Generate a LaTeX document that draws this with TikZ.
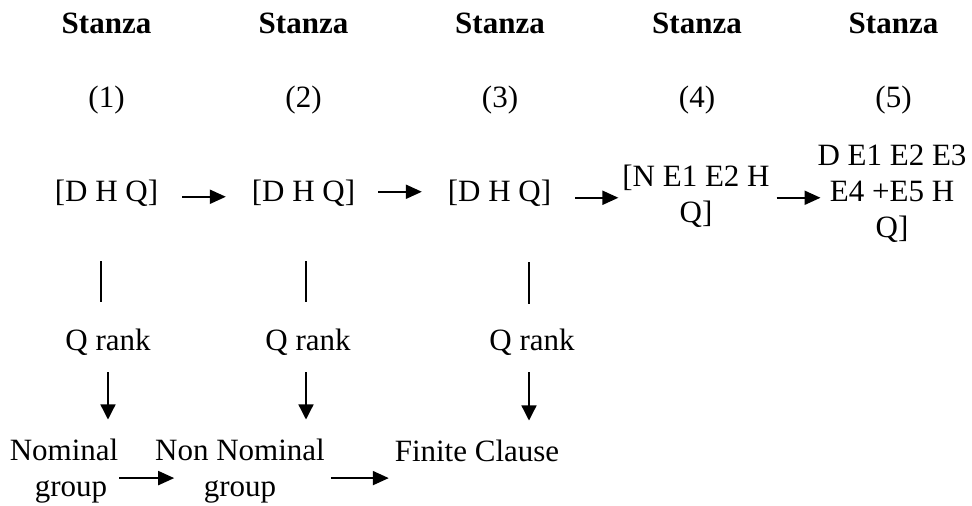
\documentclass[tikz,border=0pt]{standalone}
\usepackage{fontspec}
\setmainfont{Liberation Serif}
\usetikzlibrary{arrows.meta,calc}
\tikzset{
  txt/.style={inner sep=0pt, outer sep=0pt, font=\fontsize{31}{36}\selectfont, align=center, anchor=base},
  hdr/.style={txt, font=\fontsize{31}{36}\selectfont\bfseries},
  harr/.style={line width=2pt, -{Triangle[length=16pt,width=14pt]}},
  varr/.style={line width=1.3pt, -{Triangle[length=15pt,width=15pt]}},
  vline/.style={line width=1.5pt}
}
\begin{document}
\begin{tikzpicture}[x=1pt,y=-1pt]
\useasboundingbox (0,0) rectangle (972,506);
% headings
\node[hdr] (s1) at (106.5,33) {Stanza};
\node[hdr] (s2) at (303.5,33) {Stanza};
\node[hdr] (s3) at (500,33) {Stanza};
\node[hdr] (s4) at (697,33) {Stanza};
\node[hdr] (s5) at (893.5,33) {Stanza};
\node[txt] (n1) at (106.5,107) {(1)};
\node[txt] (n2) at (303.5,107) {(2)};
\node[txt] (n3) at (500,107) {(3)};
\node[txt] (n4) at (697,107) {(4)};
\node[txt] (n5) at (893.5,107) {(5)};
% structures
\node[txt] (a1) at (106.5,201) {[D H Q]};
\node[txt] (a2) at (303.5,201) {[D H Q]};
\node[txt] (a3) at (499.5,201) {[D H Q]};
\node[txt] (a4) at (696,222) {[N E1 E2 H\\Q]};
\node[txt] (a5) at (892,237) {D E1 E2 E3\\E4 +E5 H\\Q]};
\draw[harr] ($(a1.east)+(24,4)$) -- ($(a2.west)+(-26,4)$);
\draw[harr] ($(a2.east)+(23,-1)$) -- ($(a3.west)+(-26,-1)$);
\draw[harr] ($(a3.east)+(24,5)$) -- ($(a3.east -| a4.west)+(-4,5)$);
\draw[harr] ($(a3.east -| a4.east)+(7,5)$) -- ($(a3.east -| a5.west)+(3,5)$);
% ranks
\node[txt] (q1) at (108,350) {Q rank};
\node[txt] (q2) at (308,350) {Q rank};
\node[txt] (q3) at (532,350) {Q rank};
\draw[vline] ($(a1.south)+(-5.5,55)$) -- ($(a1.south)+(-5.5,96)$);
\draw[vline] ($(a2.south)+(2.5,55)$) -- ($(a2.south)+(2.5,96)$);
\draw[vline] ($(a3.south)+(29.5,56)$) -- ($(a3.south)+(29.5,98)$);
% bottom
\node[txt] (b1) at (64,496) {Nominal\\\hspace*{14pt}group};
\node[txt] (b2) at (240,496) {Non Nominal\\group};
\node[txt] (b3) at (477,461) {Finite Clause};
\draw[varr, shorten <=17pt, shorten >=19pt] (q1.south) -- (q1.south |- b1.north);
\draw[varr, shorten <=17pt, shorten >=19pt] ([xshift=-2pt]q2.south) -- ([xshift=-2pt]q2.south |- b2.north);
\draw[varr, shorten <=17pt, shorten >=19pt] ([xshift=-3pt]q3.south) -- ([xshift=-3pt]q3.south |- b3.north);
\draw[harr] ($(b1.east)+(1,7.5)$) -- ($(b2.west)+(19,7.5)$);
\draw[harr] ($(b2.east)+(6,7.5)$) -- ($(b2.east -| b3.west)+(-6,7.5)$);
\end{tikzpicture}
\end{document}
